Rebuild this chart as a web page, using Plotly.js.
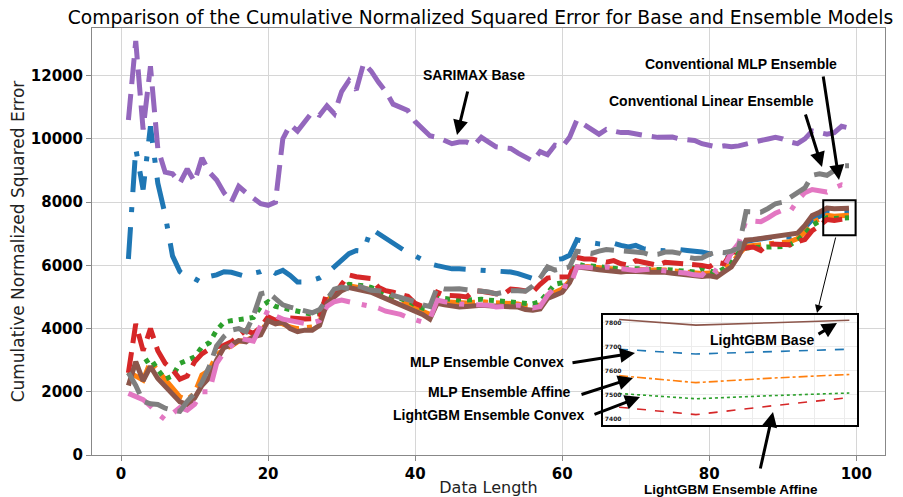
<!DOCTYPE html>
<html><head><meta charset="utf-8">
<script src="https://cdn.plot.ly/plotly-3.0.1.min.js"></script>
<style>html,body{margin:0;padding:0;background:#fff}#chart{width:903px;height:497px}</style>
</head><body><div id="chart"></div>
<script>
// Data length 1..99
const dataLength = [];
for (let i = 1; i <= 99; i++) dataLength.push(i);

const mlpEnsembleConvex = [6200,9700,8400,10400,8600,7600,6300,5800,5630,5580,
 5450,5650,5700,5800,5780,5700,5650,5750,5800,5900,
 5750,5840,5680,5470,5470,5530,5600,5750,5950,6160,
 6370,6470,6450,7160,7000,6840,6680,6530,6400,6300,
 6180,6050,5990,5920,5890,5890,5880,5870,5860,5850,
 5840,5820,5790,5740,5670,5580,5700,5900,6180,6210,
 6320,6810,6750,6700,6680,6660,6700,6630,6580,6630,
 6530,6500,6480,6460,6480,6500,6470,6450,6420,6370,
 6280,6200,6300,6500,6750,6800,6850,6870,6900,6900,
 6900,6950,7200,7450,7550,7690,7670,7680,7690];

const mlpEnsembleAffine = [2630,2500,2370,2950,2680,2370,2100,1840,1750,1950,
 2530,2680,3160,3350,3450,3600,3620,3750,3850,4300,
 4200,4150,4050,4000,4020,4050,4200,4900,5050,5250,
 5350,5320,5280,5230,5120,5020,4930,4850,4780,4650,
 4550,4450,4900,4850,4830,4800,4810,4830,4850,4830,
 4820,4800,4790,4780,4720,4700,4750,5050,5150,5250,
 5500,6000,5970,5950,5920,5900,5880,5860,5880,5890,
 5870,5850,5860,5850,5830,5800,5770,5750,5740,5760,
 5730,5880,6050,6350,6600,6630,6650,6700,6720,6740,
 6750,6850,7050,7350,7450,7580,7551,7570,7585];

const lgbmEnsembleConvex = [2500,2800,2900,3050,2700,2400,2500,2900,3000,3100,
 3420,3550,3950,4200,4250,4280,4320,4350,4700,4850,
 4700,4650,4600,4550,4500,4450,4500,5000,5100,5300,
 5400,5380,5350,5300,5200,5100,5000,4950,4880,4750,
 4650,4600,5000,4950,4920,4900,4900,4920,4930,4900,
 4880,4870,4850,4830,4800,4780,4850,5100,5400,5450,
 5600,6050,5980,5980,5950,5930,5900,5880,5900,5910,
 5890,5870,5880,5870,5850,5830,5800,5790,5900,5850,
 5760,5900,6100,6400,6550,6560,6570,6600,6620,6600,
 6650,6800,7000,7260,7400,7506,7484,7497,7508];

const lgbmEnsembleAffine = [2600,4150,3300,4000,3300,2900,2700,2400,2500,2950,
 3200,3350,3420,3470,3580,3790,3950,3840,4050,4370,
 4260,4350,4330,4300,4300,4310,4350,5150,5050,5400,
 5700,5640,5600,5580,5310,5200,5150,5080,5020,4800,
 4700,4650,5150,5050,5050,5030,5000,5200,5180,5120,
 5100,5080,5250,5230,5180,5160,5400,5600,5630,5630,
 5640,6250,6200,6200,6150,6100,6150,6050,6000,6150,
 6100,6050,6000,6100,6080,6060,6050,6050,6000,5950,
 6100,6050,6400,6470,6550,6580,6470,6680,6680,6650,
 6650,6750,6820,7100,7250,7449,7418,7455,7489];

const sarimaxBase = [10600,13100,10300,12300,9700,8950,8900,8600,9050,8650,
 9400,8950,8700,8300,8000,8500,8300,8100,7950,7900,
 8000,10000,10450,10250,10550,10850,10750,11050,10800,11500,
 11850,11550,12400,12150,11800,11500,11100,11000,10900,10550,
 10350,10100,10050,9950,9850,9900,9900,9800,10050,9900,
 9750,9720,9700,9550,9430,9300,9600,9500,9800,9750,
 10050,10600,10450,10300,10150,10300,10250,10200,10200,10150,
 10100,10080,10050,10050,10060,10000,9980,9950,9850,9780,
 9750,9780,9750,9780,9850,9900,9950,10000,10050,10000,
 9900,9850,10000,10250,10200,10150,10200,10400,10350];

const lgbmBase = [2200,2950,2350,2800,2420,2160,1890,1680,1600,1800,
 2200,2450,3000,3400,3480,3620,3580,3740,3800,4250,
 4150,4200,4000,3900,3950,3950,4100,4800,5000,5200,
 5300,5260,5220,5150,5050,4950,4850,4750,4680,4550,
 4450,4300,4800,4750,4720,4680,4700,4720,4740,4720,
 4710,4700,4690,4680,4600,4580,4620,4950,5050,5150,
 5450,5950,5920,5880,5860,5840,5820,5790,5810,5820,
 5800,5780,5790,5780,5750,5720,5680,5660,5650,5670,
 5630,5790,5950,6300,6800,6820,6850,6900,6930,6950,
 6960,7020,7260,7580,7680,7813,7790,7800,7810];

const conventionalMlpEnsemble = [1950,1850,1750,1550,1300,1120,1300,1500,1420,1600,
 2000,2000,2900,3250,3450,3700,3650,3600,4100,4600,
 4400,4300,4250,4200,4160,4180,4250,4700,4850,4900,
 4850,4800,4750,4700,4650,4550,4500,4450,4350,4280,
 4210,4300,4900,4850,4800,4780,4760,4750,4750,4740,
 4680,4700,4740,4740,4700,4650,4700,5050,5300,5370,
 5300,5950,5950,5920,5900,5950,5920,5900,5870,5840,
 5860,5880,5850,5830,5800,5790,5750,5700,5680,5950,
 5800,5950,6400,6700,7420,7400,7380,7500,7650,7750,
 7700,8050,8300,8400,8350,8320,8450,8550,8500];

const conventionalLinearEnsemble = [2600,2200,1700,1620,1600,1480,1420,1380,1700,1950,
 2300,2800,3450,3750,3950,4000,3900,4400,5100,5150,
 4950,4750,4680,4630,4550,4500,4600,4950,5250,5310,
 5260,5370,5300,5210,5200,5150,5050,4980,4950,4850,
 4750,4700,5300,5250,5250,5260,5230,5210,5180,5160,
 5100,5150,5200,5200,5180,5350,5600,5950,5850,5900,
 5950,6450,6400,6380,6450,6500,6480,6470,6460,6420,
 6400,6330,6350,6420,6420,6380,6260,6220,6230,6350,
 6420,6400,6450,6550,7700,7700,7680,7800,7950,8000,
 8150,8300,8450,8850,8900,8850,9000,9150,9150];

const xTicks = [0, 20, 40, 60, 80, 100];
const yTicks = [0, 2000, 4000, 6000, 8000, 10000, 12000];
const insetYTicks = [7400, 7500, 7600, 7700, 7800];
const insetCount = 4;

const W = 5;
const DASHED_LONG = '26px,10px';
const DASHED = '21px,9px';
const DASHDOT = '32px,15px,5px,15px';
const DASHDOT_PINK = '28px,12px,5px,12px';
const DOTTED = '5px,6px';

const mainSeries = [
  {name:'MLP Ensemble Convex', y: mlpEnsembleConvex, color:'#1f77b4', dash: DASHDOT, idash:'dash'},
  {name:'MLP Ensemble Affine', y: mlpEnsembleAffine, color:'#ff7f0e', dash: '32px,8px,5px,8px', idash:'dashdot'},
  {name:'LightGBM Ensemble Convex', y: lgbmEnsembleConvex, color:'#2ca02c', dash: DOTTED, idash:'dot'},
  {name:'LightGBM Ensemble Affine', y: lgbmEnsembleAffine, color:'#d62728', dash: DASHED, idash:'dash'},
  {name:'SARIMAX Base', y: sarimaxBase, color:'#9467bd', dash: DASHED_LONG, idash:null},
  {name:'LightGBM Base', y: lgbmBase, color:'#8c564b', dash: 'solid', idash:'solid'},
  {name:'Conventional MLP Ensemble', y: conventionalMlpEnsemble, color:'#e377c2', dash: DASHDOT_PINK, idash:null},
  {name:'Conventional Linear Ensemble', y: conventionalLinearEnsemble, color:'#7f7f7f', dash: '24px,10px', idash:null}
];

const traces = [];
mainSeries.forEach(s => {
  traces.push({x: dataLength, y: s.y, type:'scatter', mode:'lines', name: s.name,
    line:{color: s.color, width: W, dash: s.dash}, xaxis:'x', yaxis:'y', hoverinfo:'skip'});
});
mainSeries.forEach(s => {
  if (!s.idash) return;
  traces.push({x: dataLength.slice(-insetCount), y: s.y.slice(-insetCount), type:'scatter', mode:'lines',
    line:{color: s.color, width: 1.6, dash: s.idash}, xaxis:'x2', yaxis:'y2', hoverinfo:'skip'});
});

// pixel -> paper helpers for annotation placement
const L = 92, R = 885, T = 28, B = 455;
const px = v => (v - L) / (R - L);
const py = v => (B - v) / (B - T);

const labelFont = {family:'Liberation Sans, Arial, sans-serif', size:14, color:'black'};
function label(text, cx, cy, size) {
  return {text:'<b>' + text + '</b>', x: px(cx), y: py(cy), xref:'paper', yref:'paper',
    showarrow:false, font: Object.assign({}, labelFont, size ? {size: size} : {}),
    xanchor:'center', yanchor:'middle', borderpad:0};
}
function arrow(tx, ty, hx, hy, w) {
  return {text:'', x: px(hx), y: py(hy), xref:'paper', yref:'paper', showarrow:true,
    ax: tx - hx, ay: ty - hy, arrowhead: 2, arrowsize: w > 2 ? 1 : 1.6, arrowwidth: w, arrowcolor:'black', standoff:0};
}

const annotations = [
  label('SARIMAX Base', 474, 75), arrow(468, 90, 457, 135, 3),
  label('Conventional MLP Ensemble', 741, 64), arrow(823, 75, 839, 180, 3),
  label('Conventional Linear Ensemble', 711, 101), arrow(805, 113, 822, 167, 3),
  label('LightGBM Base', 762, 340), arrow(817, 335, 837, 323, 3),
  label('MLP Ensemble Convex', 487, 362), arrow(571, 363, 635, 353, 3),
  label('MLP Ensemble Affine', 499, 392), arrow(580, 395, 633, 378, 3),
  label('LightGBM Ensemble Convex', 489, 415), arrow(593, 415, 640, 397, 3),
  label('LightGBM Ensemble Affine', 731, 489, 13.5), arrow(760, 470, 773, 412, 3),
  arrow(836, 236, 817, 313, 1)
];

const tickFont = {family:'DejaVu Sans, sans-serif', size:15, color:'black', weight:'bold'};

const layout = {
  width: 903, height: 497,
  margin: {l: L, r: 903 - R, t: T, b: 497 - B, pad: 0},
  paper_bgcolor:'white', plot_bgcolor:'white', showlegend:false,
  title: {text:'Comparison of the Cumulative Normalized Squared Error for Base and Ensemble Models',
    font:{family:'DejaVu Sans, sans-serif', size:18.7, color:'black'},
    xref:'paper', x:(480.5 - L) / (R - L), xanchor:'center', yref:'container', y: 1 - 17/497, yanchor:'middle'},
  xaxis: {domain:[0,1], anchor:'y', range:[-3.95, 103.9], tickvals: xTicks, ticktext: xTicks.map(String),
    showgrid:true, gridcolor:'#d6d6d6', gridwidth:1, zeroline:false,
    showline:true, linecolor:'#888', linewidth:1, mirror:true,
    ticks:'outside', ticklen:5, tickcolor:'#888', tickfont: tickFont,
    title:{text:'Data Length', font:{family:'DejaVu Sans, sans-serif', size:16, color:'#222'}, standoff: 4}},
  yaxis: {domain:[0,1], anchor:'x', range:[0, 13510], tickvals: yTicks, ticktext: yTicks.map(String),
    showgrid:true, gridcolor:'#d6d6d6', gridwidth:1, zeroline:false,
    showline:true, linecolor:'#888', linewidth:1, mirror:true,
    ticks:'outside', ticklen:5, tickcolor:'#888', tickfont: tickFont,
    title:{text:'Cumulative Normalized Squared Error', font:{family:'DejaVu Sans, sans-serif', size:17, color:'#222'}, standoff: 1}},
  xaxis2: {domain:[px(603), px(857)], anchor:'y2', range:[95.79, 99.10], dtick:0.4, tick0:96.14,
    showticklabels:false, showgrid:true, gridcolor:'#ececec', zeroline:false,
    showline:true, linecolor:'black', linewidth:2, mirror:true, ticks:''},
  yaxis2: {domain:[py(425), py(315)], anchor:'x2', range:[7375, 7832], tickvals: insetYTicks,
    ticktext: insetYTicks.map(String), ticklabelposition:'inside',
    tickfont:{family:'DejaVu Sans, sans-serif', size:6, color:'#222', weight:'bold'},
    showgrid:true, gridcolor:'#ececec', zeroline:false,
    showline:true, linecolor:'black', linewidth:2, mirror:true, ticks:''},
  shapes: [
    {type:'rect', xref:'x', yref:'y', x0:95.5, x1:99.9, y0:6950, y1:8060,
     line:{color:'black', width:2}, fillcolor:'rgba(0,0,0,0)', layer:'above'}
  ],
  annotations: annotations
};

Plotly.newPlot('chart', traces, layout, {displayModeBar:false, staticPlot:true});
</script>
</body></html>
